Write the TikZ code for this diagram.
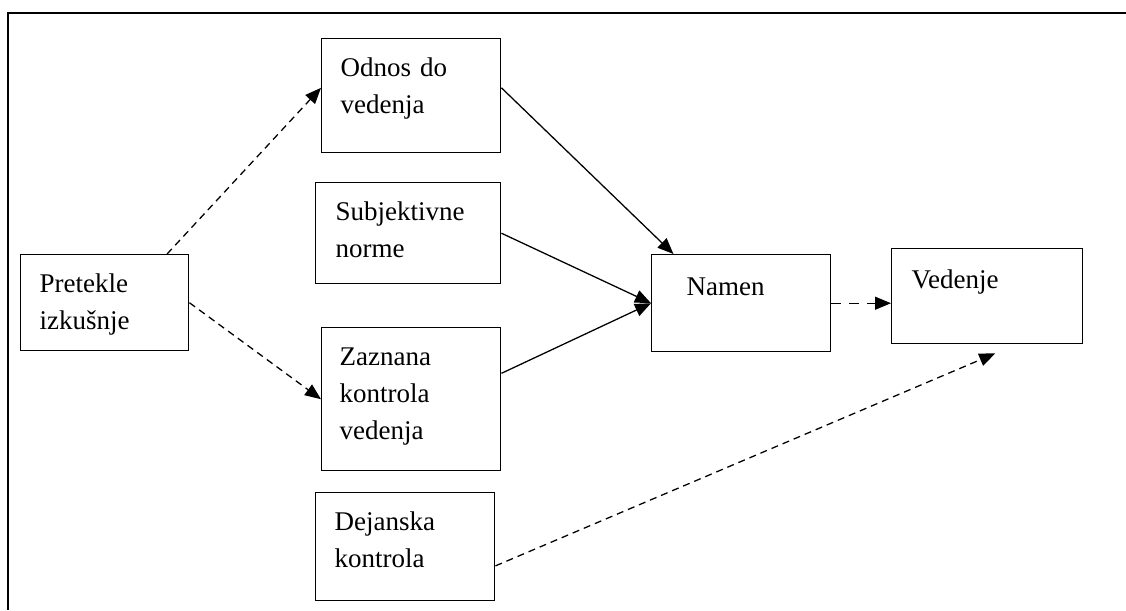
\documentclass[tikz,border=0pt]{standalone}
\usepackage{fontspec}
\setmainfont{Liberation Serif}
\usetikzlibrary{arrows.meta,calc}
\tikzset{
  box/.style={draw,black,line width=0.5mm,anchor=north west,inner ysep=0pt,align=left,font=\fontsize{27}{37}\selectfont},
  solidarrow/.style={black,line width=0.45mm,-{Triangle[length=16pt,width=13pt]}},
  dasharrow/.style={solidarrow,dash pattern=on 7pt off 5pt},
}
\begin{document}
\begin{tikzpicture}[x=1pt,y=-1pt]
    \useasboundingbox (0,0) rectangle (1126,610);
    %FRAME
    \draw[black,line width=0.7mm] (8,610) -- (8,13) -- (1126,13);
    %BOXES
    \node[box,inner xsep=19pt,text width=130pt,text height=38pt,text depth=58pt] (pretekle) at (20,254) {Pretekle\\izkušnje};
    \node[box,inner xsep=19pt,text width=141pt,text height=38pt,text depth=76pt] (odnos) at (321,38) {Odnos do\\vedenja};
    \node[box,inner xsep=20pt,text width=145pt,text height=38pt,text depth=63pt] (subjektivne) at (315,182) {Subjektivne\\norme};
    \node[box,inner xsep=18pt,text width=143pt,text height=38pt,text depth=105pt] (zaznana) at (321,327) {Zaznana\\kontrola\\vedenja};
    \node[box,inner xsep=19pt,text width=141pt,text height=38pt,text depth=70pt] (dejanska) at (315,492) {Dejanska\\kontrola};
    \node[box,inner xsep=35pt,text width=109pt,text height=41pt,text depth=56pt] (namen) at (651,254) {Namen};
    \node[box,inner xsep=20pt,text width=151pt,text height=40pt,text depth=55pt] (vedenje) at (891,248) {Vedenje};
    %ARROWS
    \draw[dasharrow] (pretekle.38) -- (odnos.175);
    \draw[dasharrow] (pretekle.east) -- (zaznana.west);
    \draw[solidarrow] (odnos.5) -- (namen.144);
    \draw[solidarrow] (subjektivne.east) -- (namen.west);
    \draw[solidarrow] (zaznana.16) -- (namen.west);
    \draw[dasharrow,dash pattern=on 10pt off 8pt] (namen.east) -- (namen.east -| vedenje.west);
    % TIP STOPS BELOW THE BOX
    \coordinate (vedenjetip) at ($(vedenje.south)+(8,9)$);
    \draw[dasharrow] (dejanska.-12) -- (vedenjetip);
\end{tikzpicture}
\end{document}
